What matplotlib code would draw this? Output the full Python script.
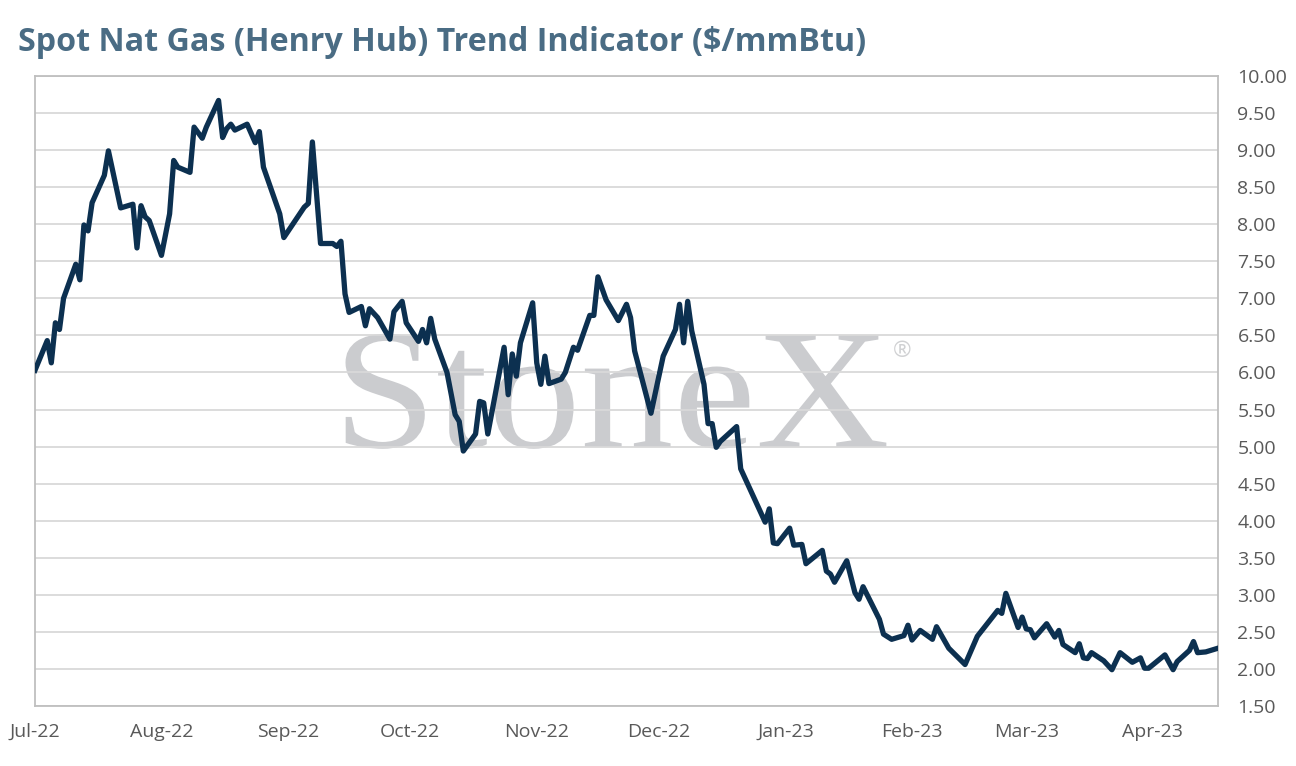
import matplotlib
matplotlib.use('Agg')
import matplotlib.pyplot as plt
import matplotlib.dates as mdates
from matplotlib.ticker import MultipleLocator, FormatStrFormatter
from matplotlib.textpath import TextPath
from matplotlib.patches import PathPatch
from matplotlib.font_manager import FontProperties
from matplotlib.transforms import Affine2D
import numpy as np

# Spot Henry Hub price
dates = [
    "2022-07-01", "2022-07-04", "2022-07-05", "2022-07-06", "2022-07-07", "2022-07-08",
    "2022-07-11", "2022-07-12", "2022-07-13", "2022-07-14", "2022-07-15", "2022-07-18",
    "2022-07-19", "2022-07-22", "2022-07-25", "2022-07-26", "2022-07-27", "2022-07-28",
    "2022-07-29", "2022-08-01", "2022-08-03", "2022-08-04", "2022-08-05", "2022-08-08",
    "2022-08-09", "2022-08-11", "2022-08-12", "2022-08-15", "2022-08-16", "2022-08-17",
    "2022-08-18", "2022-08-19", "2022-08-22", "2022-08-24", "2022-08-25", "2022-08-26",
    "2022-08-30", "2022-08-31", "2022-09-05", "2022-09-06", "2022-09-07", "2022-09-09",
    "2022-09-12", "2022-09-13", "2022-09-14", "2022-09-15", "2022-09-16", "2022-09-19",
    "2022-09-20", "2022-09-21", "2022-09-23", "2022-09-26", "2022-09-27", "2022-09-29",
    "2022-09-30", "2022-10-03", "2022-10-04", "2022-10-05", "2022-10-06", "2022-10-07",
    "2022-10-10", "2022-10-12", "2022-10-13", "2022-10-14", "2022-10-17", "2022-10-18",
    "2022-10-19", "2022-10-20", "2022-10-24", "2022-10-25", "2022-10-26", "2022-10-27",
    "2022-10-28", "2022-10-31", "2022-11-01", "2022-11-02", "2022-11-03", "2022-11-04",
    "2022-11-07", "2022-11-08", "2022-11-10", "2022-11-11", "2022-11-14", "2022-11-15",
    "2022-11-16", "2022-11-18", "2022-11-21", "2022-11-23", "2022-11-24", "2022-11-25",
    "2022-11-29", "2022-12-02", "2022-12-05", "2022-12-06", "2022-12-07", "2022-12-08",
    "2022-12-09", "2022-12-12", "2022-12-13", "2022-12-14", "2022-12-15", "2022-12-16",
    "2022-12-20", "2022-12-21", "2022-12-27", "2022-12-28", "2022-12-29", "2022-12-30",
    "2023-01-02", "2023-01-03", "2023-01-05", "2023-01-06", "2023-01-10", "2023-01-11",
    "2023-01-12", "2023-01-13", "2023-01-16", "2023-01-18", "2023-01-19", "2023-01-20",
    "2023-01-24", "2023-01-25", "2023-01-27", "2023-01-30", "2023-01-31", "2023-02-01",
    "2023-02-03", "2023-02-06", "2023-02-07", "2023-02-10", "2023-02-14", "2023-02-17",
    "2023-02-22", "2023-02-23", "2023-02-24", "2023-02-27", "2023-02-28", "2023-03-01",
    "2023-03-02", "2023-03-03", "2023-03-06", "2023-03-08", "2023-03-09", "2023-03-10",
    "2023-03-13", "2023-03-14", "2023-03-15", "2023-03-16", "2023-03-17", "2023-03-20",
    "2023-03-22", "2023-03-24", "2023-03-27", "2023-03-29", "2023-03-30", "2023-03-31",
    "2023-04-04", "2023-04-06", "2023-04-07", "2023-04-10", "2023-04-11", "2023-04-12",
    "2023-04-14", "2023-04-17",
]
prices = [
    6.03, 6.43, 6.13, 6.67, 6.58, 7.00,
    7.46, 7.25, 7.99, 7.91, 8.29, 8.66,
    8.99, 8.22, 8.27, 7.68, 8.25, 8.10,
    8.05, 7.58, 8.14, 8.86, 8.77, 8.70,
    9.31, 9.16, 9.31, 9.67, 9.17, 9.29,
    9.35, 9.27, 9.35, 9.10, 9.25, 8.77,
    8.14, 7.82, 8.23, 8.28, 9.11, 7.74,
    7.74, 7.70, 7.77, 7.06, 6.81, 6.89,
    6.63, 6.86, 6.74, 6.45, 6.82, 6.96,
    6.67, 6.42, 6.58, 6.40, 6.73, 6.45,
    6.00, 5.43, 5.34, 4.94, 5.17, 5.61,
    5.59, 5.17, 6.34, 5.70, 6.25, 5.95,
    6.40, 6.94, 6.13, 5.84, 6.22, 5.85,
    5.91, 6.00, 6.34, 6.30, 6.77, 6.77,
    7.29, 6.98, 6.70, 6.92, 6.74, 6.29,
    5.45, 6.22, 6.58, 6.92, 6.40, 6.96,
    6.56, 5.84, 5.31, 5.31, 4.99, 5.07,
    5.27, 4.70, 3.98, 4.16, 3.70, 3.69,
    3.90, 3.67, 3.68, 3.42, 3.60, 3.32,
    3.28, 3.17, 3.46, 3.03, 2.94, 3.11,
    2.67, 2.47, 2.40, 2.45, 2.59, 2.39,
    2.52, 2.40, 2.57, 2.28, 2.06, 2.44,
    2.79, 2.75, 3.02, 2.56, 2.70, 2.54,
    2.53, 2.42, 2.61, 2.43, 2.52, 2.33,
    2.22, 2.34, 2.15, 2.14, 2.22, 2.11,
    1.99, 2.22, 2.09, 2.15, 2.01, 2.01,
    2.19, 1.99, 2.10, 2.25, 2.37, 2.22,
    2.23, 2.28,
]

x = np.array(dates, dtype='datetime64[D]')
y = np.array(prices)

plt.rcParams['font.family'] = ['Open Sans', 'DejaVu Sans']

fig = plt.figure(figsize=(12.96, 7.66), dpi=100)
ax = fig.add_axes([0.027, 0.0783, 0.9128, 0.8225])

ax.plot(x, y, color='#0c3050', lw=3.8, solid_joinstyle='round', zorder=3)

# StoneX watermark, stretched a little wider than the plain serif face
tp = TextPath((0, 0), 'StoneX', size=171, prop=FontProperties(family='Liberation Serif'))
ox, oy = ax.transAxes.transform((0.252, 0.411))
wm = PathPatch(tp, facecolor='#cbcccf', edgecolor='none', zorder=1,
               transform=Affine2D().scale(1.085, 1.0).translate(ox, oy))
wm.set_clip_on(False)
ax.add_artist(wm)
ax.text(0.733, 0.562, '®', transform=ax.transAxes, ha='center', va='center',
        fontsize=16, color='#d0d1d3', zorder=1)

ax.set_xlim(x[0], x[-1])
ax.set_ylim(1.5, 10.0)
ax.yaxis.set_major_locator(MultipleLocator(0.5))
ax.yaxis.set_major_formatter(FormatStrFormatter('%.2f'))
ax.yaxis.tick_right()
ax.xaxis.set_major_locator(mdates.MonthLocator())
ax.xaxis.set_major_formatter(mdates.DateFormatter('%b-%y'))

ax.grid(axis='y', color='#d9d9d9', lw=1.3, zorder=0)
ax.tick_params(axis='both', length=0, labelsize=14, labelcolor='#595959')
ax.tick_params(axis='y', pad=14)
ax.tick_params(axis='x', pad=12)
for s in ax.spines.values():
    s.set_color('#bfbfbf')
    s.set_linewidth(1.3)

fig.text(0.014, 0.945, 'Spot Nat Gas (Henry Hub) Trend Indicator ($/mmBtu)',
         fontsize=23.2, fontweight='bold', color='#4a6c84', ha='left', va='center')

fig.savefig('out.png', dpi=100)
